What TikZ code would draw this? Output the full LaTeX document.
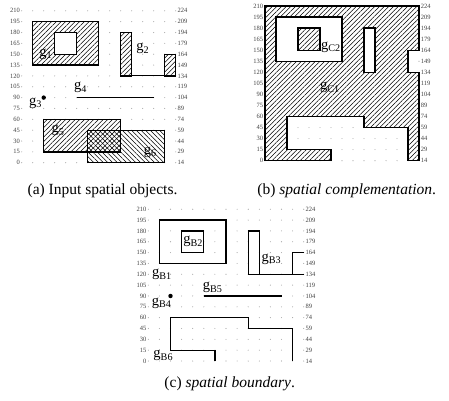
\documentclass[tikz,border=0pt]{standalone}
\usepackage{fontspec}
\setmainfont{Liberation Serif}
\usetikzlibrary{patterns.meta}

\begin{document}
\begin{tikzpicture}[
    x=1pt, y=1pt,
    dot/.style={fill=black!35},
    ticklabel/.style={font=\fontsize{6.5}{7}\selectfont, text=black!75, inner sep=0pt},
    glabel/.style={font=\fontsize{14.5}{15}\selectfont, inner sep=0pt},
    caption/.style={font=\fontsize{15.5}{17}\selectfont, inner sep=0pt},
    outline/.style={line width=1.3pt},
    hatchne/.style={preaction={fill=white}, pattern={Lines[angle=45,distance=3.3pt,line width=0.5pt]}},
    hatchnw/.style={preaction={fill=white}, pattern={Lines[angle=-45,distance=3.3pt,line width=0.5pt]}}
]
    \useasboundingbox (0,-400) rectangle (449,0);

    \begin{scope}[shift={(21.7pt,-162.7pt)}, x=11pt, y=10.85pt]
        \foreach \i in {0,...,14}
            \foreach \j in {0,...,14}
                \fill[dot] (\i,\j) circle (0.55pt);
        \foreach \j in {0,...,14} {
            \pgfmathtruncatemacro\lv{15*\j}
            \pgfmathtruncatemacro\rv{15*\j+14}
            \node[ticklabel, anchor=east] (al\j) at (-0.15,\j) {\lv};
            \node[ticklabel, anchor=west] (ar\j) at (14.15,\j) {\rv};
        }
        \draw[outline, hatchne, even odd rule] (1,9) rectangle (7,13) (3,10) rectangle (5,12);
        \draw[outline, hatchne] (9,8) rectangle (10,12);
        \draw[outline, hatchne] (13,8) rectangle (14,10);
        \draw[line width=1pt] (10,8) -- (13,8);
        \fill (2,6) circle (2.2pt);
        \draw[line width=1.5pt] (5,6) -- (12,6);
        \path[hatchne] (2,1) rectangle (9,4);
        \path[hatchnw] (6,0) rectangle (13,3);
        \path[pattern={Lines[angle=45,distance=3.3pt,line width=0.5pt]}] (6,1) rectangle (9,3);
        \draw[outline] (2,1) rectangle (9,4) (6,0) rectangle (13,3);
        \node[glabel] (g1) at (2.2,10.0) {g\textsubscript{1}};
        \node[glabel] (g2) at (11.0,10.5) {g\textsubscript{2}};
        \node[glabel] (g3) at (1.25,5.5) {g\textsubscript{3}};
        \node[glabel] (g4) at (5.36,6.9) {g\textsubscript{4}};
        \node[glabel] (g5) at (3.3,2.95) {g\textsubscript{5}};
        \node[glabel] (g6) at (11.7,1.0) {g\textsubscript{6}};
    \end{scope}

    \begin{scope}[shift={(265pt,-160.7pt)}, x=11pt, y=11.05pt]
        \foreach \i in {0,...,14}
            \foreach \j in {0,...,14}
                \fill[dot] (\i,\j) circle (0.55pt);
        \foreach \j in {0,...,14} {
            \pgfmathtruncatemacro\lv{15*\j}
            \pgfmathtruncatemacro\rv{15*\j+14}
            \node[ticklabel, anchor=east] (bl\j) at (-0.15,\j) {\lv};
            \node[ticklabel, anchor=west] (br\j) at (14.15,\j) {\rv};
        }
        \draw[outline, hatchne, even odd rule] (0,0) -- (0,14) -- (14,14) -- (14,10) -- (13,10) -- (13,8)
            -- (14,8) -- (14,0) -- (13,0) -- (13,3) -- (9,3) -- (9,4) -- (2,4) -- (2,1) -- (6,1) -- (6,0) -- cycle
            (1,9) rectangle (7,13) (9,8) rectangle (10,12);
        \draw[outline, hatchne] (3,10) rectangle (5,12);
        \node[glabel] (gc2) at (6.0,10.3) {g\textsubscript{C2}};
        \node[glabel] (gc1) at (5.9,6.6) {g\textsubscript{C1}};
    \end{scope}

    \begin{scope}[shift={(148.3pt,-361pt)}, x=11.1pt, y=10.84pt]
        \foreach \i in {0,...,14}
            \foreach \j in {0,...,14}
                \fill[dot] (\i,\j) circle (0.55pt);
        \foreach \j in {0,...,14} {
            \pgfmathtruncatemacro\lv{15*\j}
            \pgfmathtruncatemacro\rv{15*\j+14}
            \node[ticklabel, anchor=east] (cl\j) at (-0.15,\j) {\lv};
            \node[ticklabel, anchor=west] (cr\j) at (14.15,\j) {\rv};
        }
        \draw[outline] (1,9) rectangle (7,13) (3,10) rectangle (5,12);
        \draw[outline] (10,8) -- (9,8) -- (9,12) -- (10,12) -- (10,8) -- (14,8) (13,8) -- (13,10) -- (14,10);
        \fill (2,6) circle (2.2pt);
        \draw[outline] (5,6) -- (12,6);
        \draw[outline] (6,0) -- (6,1) -- (2,1) -- (2,4) -- (9,4) -- (9,3) -- (13,3) -- (13,0);
        \node[glabel] (gb1) at (1.23,7.96) {g\textsubscript{B1}};
        \node[glabel] (gb2) at (4.05,11.0) {g\textsubscript{B2}};
        \node[glabel] (gb3) at (11.1,9.4) {g\textsubscript{B3}};
        \node[glabel] (gb4) at (1.2,5.3) {g\textsubscript{B4}};
        \node[glabel] (gb5) at (5.8,6.75) {g\textsubscript{B5}};
        \node[glabel] (gb6) at (1.35,0.48) {g\textsubscript{B6}};
    \end{scope}

    \node[caption] (capa) at (102.5,-190.5) {(a) Input spatial objects.};
    \node[caption] (capb) at (346.7,-190.5) {(b) \textit{spatial complementation}.};
    \node[caption] (capc) at (229.7,-384) {(c) \textit{spatial boundary}.};
\end{tikzpicture}
\end{document}
